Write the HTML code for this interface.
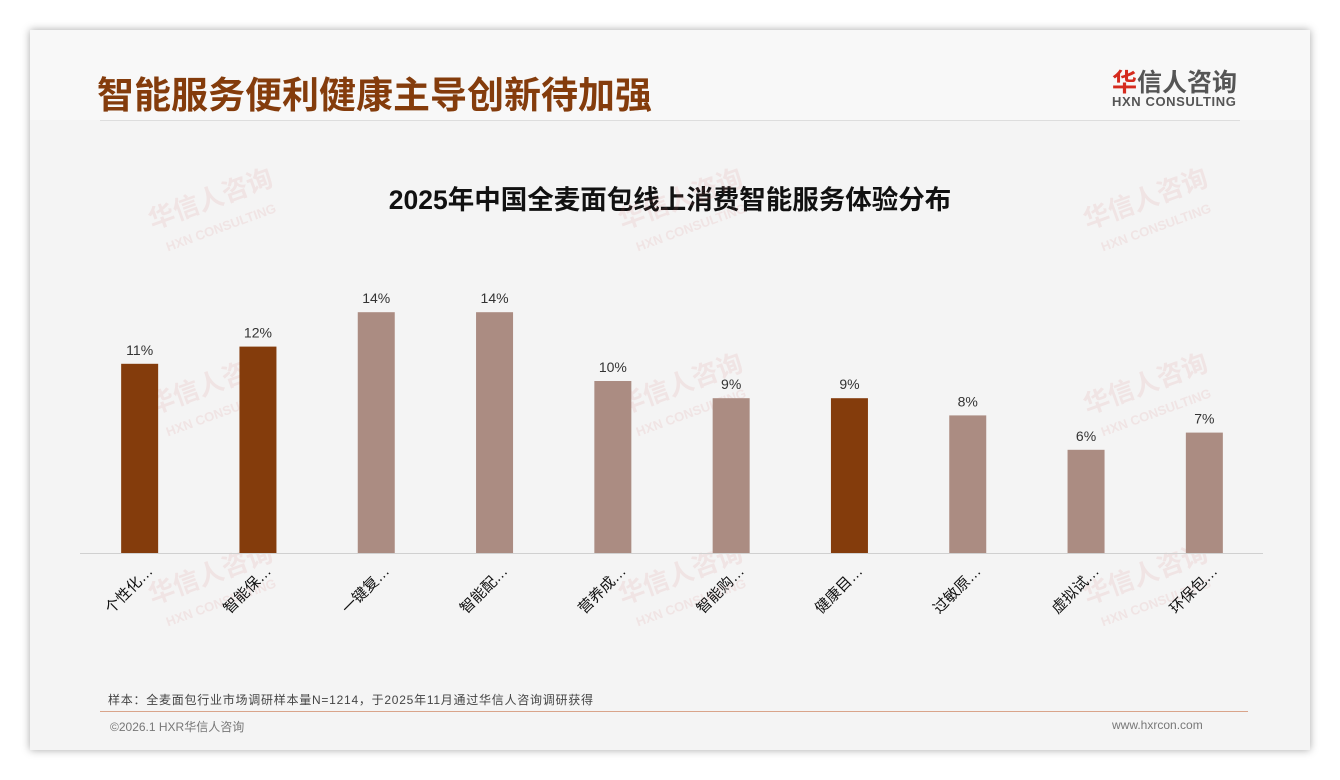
<!DOCTYPE html>
<html><head><meta charset="utf-8"><style>
body{margin:0;width:1340px;height:780px;background:#fff;font-family:"Liberation Sans","Noto Sans CJK SC",sans-serif;position:relative;overflow:hidden}
#card{position:absolute;left:30px;top:30px;width:1280px;height:720px;background:#f4f4f4;box-shadow:0 0 8px rgba(0,0,0,.35)}
#hdr{position:absolute;left:0;top:0;width:1280px;height:90px;background:#f8f8f8}
.t{position:absolute;white-space:nowrap}
.wm{position:absolute;color:rgba(220,120,120,.13);font-weight:bold;transform:rotate(-20deg);text-align:center;line-height:1}
</style></head><body>
<div id="card">
<div id="hdr"></div>
<div class="t" style="left:67px;top:35px;font-size:37px;font-weight:bold;color:#843c0c">智能服务便利健康主导创新待加强</div>
<div class="t" style="left:1082px;top:33px;font-size:25px;font-weight:bold;color:#555"><span style="color:#d52b1e">华</span>信人咨询</div>
<div class="t" style="left:1082px;top:64px;font-size:13px;font-weight:bold;color:#555;letter-spacing:0.6px">HXN CONSULTING</div>
<div style="position:absolute;left:70px;top:90px;width:1140px;height:1px;background:#ddd"></div>
<div class="t" style="left:-30px;width:1340px;text-align:center;top:148px;font-size:26.5px;font-weight:bold;color:#111">2025年中国全麦面包线上消费智能服务体验分布</div>
<div class="t" style="left:78px;top:661px;font-size:12px;color:#444;letter-spacing:0.75px">样本：全麦面包行业市场调研样本量N=1214，于2025年11月通过华信人咨询调研获得</div>
<div style="position:absolute;left:70px;top:681px;width:1148px;height:1px;background:#d9a48a"></div>
<div class="t" style="left:80px;top:688px;font-size:12px;color:#777">©2026.1 HXR华信人咨询</div>
<div class="t" style="left:1082px;top:688px;font-size:12px;color:#777">www.hxrcon.com</div>
</div>
<div class="wm" style="left:150px;top:185px;font-size:26px">华信人咨询<br><span style="font-size:13px">HXN CONSULTING</span></div>
<div class="wm" style="left:620px;top:185px;font-size:26px">华信人咨询<br><span style="font-size:13px">HXN CONSULTING</span></div>
<div class="wm" style="left:1085px;top:185px;font-size:26px">华信人咨询<br><span style="font-size:13px">HXN CONSULTING</span></div>
<div class="wm" style="left:150px;top:370px;font-size:26px">华信人咨询<br><span style="font-size:13px">HXN CONSULTING</span></div>
<div class="wm" style="left:620px;top:370px;font-size:26px">华信人咨询<br><span style="font-size:13px">HXN CONSULTING</span></div>
<div class="wm" style="left:1085px;top:370px;font-size:26px">华信人咨询<br><span style="font-size:13px">HXN CONSULTING</span></div>
<div class="wm" style="left:150px;top:560px;font-size:26px">华信人咨询<br><span style="font-size:13px">HXN CONSULTING</span></div>
<div class="wm" style="left:620px;top:560px;font-size:26px">华信人咨询<br><span style="font-size:13px">HXN CONSULTING</span></div>
<div class="wm" style="left:1085px;top:560px;font-size:26px">华信人咨询<br><span style="font-size:13px">HXN CONSULTING</span></div>
<svg id="chart" width="1340" height="780" style="position:absolute;left:0;top:0" xmlns="http://www.w3.org/2000/svg"></svg>
<script>
const categories=["个性化…","智能保…","一键复…","智能配…","营养成…","智能购…","健康目…","过敏原…","虚拟试…","环保包…"];
const values=[11,12,14,14,10,9,9,8,6,7];
const highlight=[1,1,0,0,0,0,1,0,0,0];
const valueLabels=["11%","12%","14%","14%","10%","9%","9%","8%","6%","7%"];
const svg=document.getElementById('chart');
const NS='http://www.w3.org/2000/svg';
const x0=80,x1=1263,base=553,pxPer=17.2;
const step=(x1-x0)/categories.length;
const xc=i=>x0+step*(i+0.5)+0.5;
const y=v=>base-v*pxPer;
const ax=document.createElementNS(NS,'line');


ax.setAttribute('x1',x0);ax.setAttribute('x2',x1);ax.setAttribute('y1',base+0.5);ax.setAttribute('y2',base+0.5);
ax.setAttribute('stroke','#d0d0d0');svg.appendChild(ax);
categories.forEach((c,i)=>{
 const r=document.createElementNS(NS,'rect');
 
 
 r.setAttribute('x',xc(i)-18.5);r.setAttribute('width',37);
 r.setAttribute('y',y(values[i]));r.setAttribute('height',base-y(values[i]));
 r.setAttribute('fill',highlight[i]?'#843c0c':'#ab8c82');svg.appendChild(r);
 const t=document.createElementNS(NS,'text');
 
 
 t.setAttribute('x',xc(i));t.setAttribute('y',y(values[i])-9);
 t.setAttribute('text-anchor','middle');t.setAttribute('font-size','14');t.setAttribute('fill','#333');
 t.setAttribute('font-family','Liberation Sans, sans-serif');
 t.textContent=valueLabels[i];svg.appendChild(t);
 const l=document.createElementNS(NS,'text');
 
 
 const lx=xc(i)+14,ly=572;
 l.setAttribute('x',lx);l.setAttribute('y',ly);
 l.setAttribute('text-anchor','end');l.setAttribute('font-size','15');l.setAttribute('fill','#111');
 l.setAttribute('font-family','Liberation Sans, Noto Sans CJK SC, sans-serif');
 l.setAttribute('transform','rotate(-45 '+lx+' '+ly+')');
 l.textContent=c;svg.appendChild(l);
});
</script>
</body></html>
